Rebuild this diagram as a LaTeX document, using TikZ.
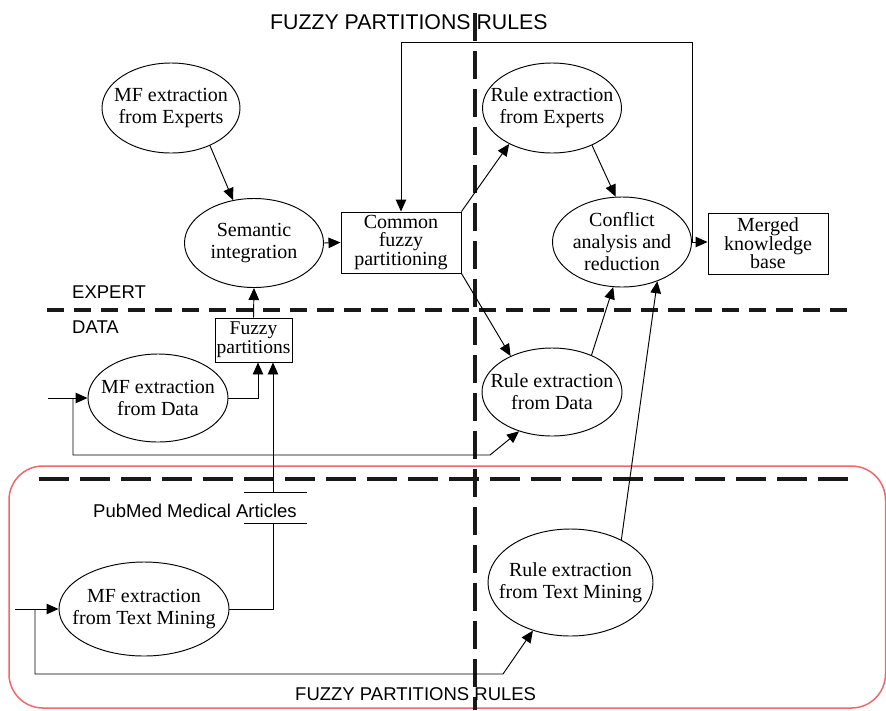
\documentclass[tikz,border=0pt]{standalone}
\usepackage{fontspec}
\setmainfont{Liberation Serif}
\newfontfamily\labelfont{Liberation Sans}
\usetikzlibrary{shapes.geometric,arrows.meta,calc}
\definecolor{framered}{RGB}{238,104,108}
\definecolor{zonegray}{RGB}{25,25,25}

\begin{document}
\begin{tikzpicture}[x=1pt,y=-1pt,
  proc/.style={ellipse,draw,line width=0.95pt,inner sep=0pt},
  txt/.style={align=center,inner sep=0pt,font=\fontsize{20}{22}\selectfont},
  store/.style={rectangle,draw,line width=0.95pt,inner sep=0pt,align=center,
                font=\fontsize{20}{18.5}\selectfont},
  flow/.style={line width=0.95pt,-{Triangle[length=12pt,width=10.5pt]}},
  link/.style={line width=0.95pt},
  zone/.style={line width=3.5pt,draw=zonegray},
  tag/.style={anchor=base west,inner sep=0pt,font=\labelfont\fontsize{18.5}{20}\selectfont},
]
\useasboundingbox (0,0) rectangle (886,710);

% text-mining region
\draw[framered,line width=1.5pt,rounded corners=34pt] (9,466) rectangle (885.5,708);

% swim-lane separators
\draw[zone,dash pattern=on 17pt off 10pt] (47,310) -- (848,310);
\draw[zone,dash pattern=on 30pt off 11pt] (39,479) -- (857,479);
\draw[zone,dash pattern=on 28pt off 10pt] (475,13) -- (475,710);

% lane labels
\node[tag,font=\labelfont\fontsize{21.3}{24}\selectfont] (toplbl) at (270,29) {FUZZY PARTITIONS RULES};
\node[tag] (botlbl) at (295,700) {FUZZY PARTITIONS RULES};
\node[tag] (expertlbl) at (72,298) {EXPERT};
\node[tag] (datalbl) at (72,333) {DATA};

% processes
\node[proc,minimum width=138pt,minimum height=90pt,
      label={[txt]center:MF extraction\\from Experts}] (mfexp) at (171,108) {};
\node[proc,minimum width=139pt,minimum height=89pt,
      label={[txt]center:Semantic\\integration}] (sem) at (254,243) {};
\node[proc,minimum width=139pt,minimum height=90pt,
      label={[txt]center:Rule extraction\\from Experts}] (ruleexp) at (552,108) {};
\node[proc,minimum width=139pt,minimum height=90pt,
      label={[txt]center:Conflict\\analysis and\\reduction}] (conf) at (622,242) {};
\node[proc,minimum width=140pt,minimum height=88pt,
      label={[txt]center:MF extraction\\from Data}] (mfdata) at (158,398) {};
\node[proc,minimum width=140pt,minimum height=88pt,
      label={[txt]center:Rule extraction\\from Data}] (ruledata) at (552,392) {};
\node[proc,minimum width=170pt,minimum height=94pt,
      label={[txt]center:MF extraction\\from Text Mining}] (mftext) at (144,609) {};
\node[proc,minimum width=165pt,minimum height=107pt,
      label={[txt]center:Rule extraction\\from Text Mining}] (ruletext) at (570.5,582.5) {};

% data stores
\node[store,minimum width=120pt,minimum height=61pt] (common) at (401,242.5) {Common\\fuzzy\\partitioning};
\node[store,minimum width=120pt,minimum height=61pt] (merged) at (768,243.5) {Merged\\knowledge\\base};
\node[store,minimum width=77pt,minimum height=44pt,font=\fontsize{19.5}{19}\selectfont] (fp) at (253.5,340) {Fuzzy\\partitions};
\node[minimum width=63pt,minimum height=30pt,inner sep=0pt] (pubmed) at (275.5,508) {};
\draw[link] (pubmed.north west) -- (pubmed.north east);
\draw[link] (pubmed.south west) -- (pubmed.south east);
\node[tag] (pubmedlbl) at (93,517) {PubMed Medical Articles};

% connection points
\coordinate (fpinA) at ($(fp.south)+(4.5,0)$);
\coordinate (fpinB) at ($(fp.south)+(19.5,0)$);
\coordinate (srcD) at (48,398);
\coordinate (tapD) at (73,398);
\coordinate (bendD) at (490,455);
\coordinate (srcT) at (15,609);
\coordinate (tapT) at (35,609);
\coordinate (bendT) at (503,674);

% expert lane
\draw[flow] (mfexp.-44) -- (sem.116);
\draw[flow] (sem.east) -- (common.west);
\draw[flow] (common.north east) -- (ruleexp.-140);
\draw[flow] (common.south east) -- (ruledata.139);
\draw[flow] (ruleexp.-43) -- (conf.98);
\draw[flow] (conf.east) -- (conf.east -| merged.west);
\draw[flow] (conf.east) -- ++(0,-200) -| (common.north);

% data lane
\draw[flow] (fp.north) -- (sem.south);
\draw[flow] (srcD) -- (mfdata.west);
\draw[flow] (mfdata.east) -| (fpinA);
\draw[flow] (tapD) |- (bendD) -- (ruledata.-130);
\draw[flow] (ruledata.43) -- (conf.-101);

% text-mining lane
\draw[flow] (pubmed.north -| fpinB) -- (fpinB);
\draw[link] (mftext.east) -| (pubmed.south -| fpinB);
\draw[flow] (srcT) -- (mftext.west);
\draw[flow] (tapT) |- (bendT) -- (ruletext.-128);
\draw[flow] (ruletext.40) -- (conf.-48);
\end{tikzpicture}
\end{document}
